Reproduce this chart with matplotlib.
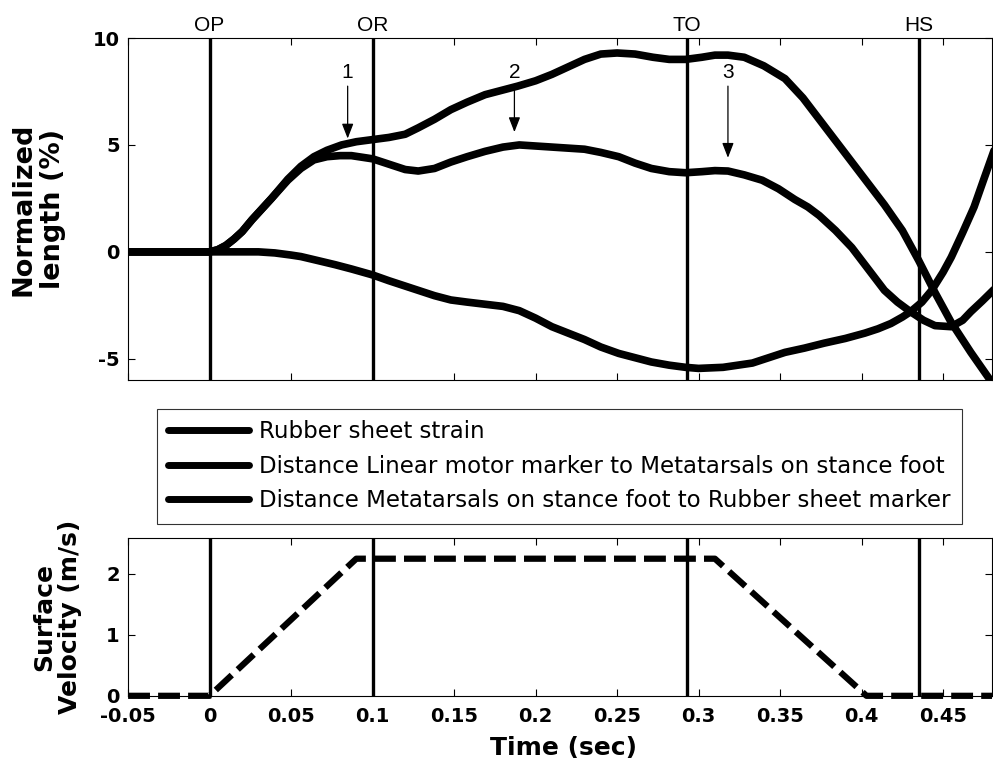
import matplotlib
matplotlib.use("Agg")
import matplotlib.pyplot as plt

plt.rcParams['font.family'] = ['Liberation Sans', 'DejaVu Sans']

# gait events (sec)
event_names = ["OP", "OR", "TO", "HS"]
event_times = [0.0, 0.1, 0.293, 0.435]

# Rubber sheet strain
t1 = [-0.05, 0, 0.005, 0.01, 0.015, 0.02, 0.026, 0.032, 0.038, 0.048, 0.056, 0.064, 0.072, 0.081,
      0.09, 0.1, 0.11, 0.12, 0.128, 0.138, 0.148, 0.158, 0.169, 0.179, 0.189, 0.2, 0.21, 0.22,
      0.23, 0.24, 0.25, 0.261, 0.272, 0.282, 0.292, 0.302, 0.31, 0.318, 0.328, 0.34, 0.353,
      0.364, 0.374, 0.384, 0.394, 0.404, 0.414, 0.425, 0.435, 0.445, 0.455, 0.467, 0.478, 0.482]
y1 = [0, 0, 0.1, 0.3, 0.6, 0.95, 1.5, 2.0, 2.5, 3.4, 4.0, 4.45, 4.75, 5.0,
      5.15, 5.25, 5.35, 5.5, 5.8, 6.2, 6.65, 7.0, 7.35, 7.55, 7.75, 8.0, 8.3, 8.65,
      9.0, 9.25, 9.3, 9.25, 9.1, 9.0, 9.0, 9.1, 9.2, 9.2, 9.1, 8.7, 8.1,
      7.2, 6.2, 5.2, 4.2, 3.2, 2.2, 1.0, -0.4, -1.9, -3.3, -4.7, -5.9, -6.3]

# Distance linear motor marker to metatarsals
t2 = [-0.05, 0, 0.005, 0.01, 0.015, 0.02, 0.026, 0.032, 0.038, 0.048, 0.056, 0.064, 0.072, 0.08,
      0.087, 0.1, 0.11, 0.12, 0.128, 0.138, 0.148, 0.158, 0.169, 0.18, 0.19, 0.2, 0.21, 0.22,
      0.23, 0.24, 0.251, 0.261, 0.271, 0.282, 0.292, 0.302, 0.31, 0.318, 0.328, 0.339, 0.349,
      0.359, 0.367, 0.374, 0.384, 0.394, 0.404, 0.414, 0.422, 0.43, 0.438, 0.445, 0.455,
      0.462, 0.467, 0.474, 0.482]
y2 = [0, 0, 0.1, 0.3, 0.6, 0.95, 1.5, 2.0, 2.5, 3.35, 3.9, 4.3, 4.45, 4.5,
      4.5, 4.35, 4.1, 3.85, 3.78, 3.9, 4.2, 4.45, 4.7, 4.9, 5.0, 4.95, 4.9, 4.85,
      4.8, 4.65, 4.45, 4.15, 3.9, 3.75, 3.7, 3.75, 3.8, 3.78, 3.6, 3.35, 2.95,
      2.45, 2.1, 1.7, 1.0, 0.2, -0.8, -1.8, -2.35, -2.8, -3.2, -3.45, -3.5,
      -3.2, -2.8, -2.3, -1.7]

# Distance metatarsals to rubber sheet marker
t3 = [-0.05, 0.03, 0.04, 0.05, 0.056, 0.066, 0.077, 0.087, 0.1, 0.11, 0.118, 0.128, 0.138,
      0.148, 0.158, 0.169, 0.18, 0.19, 0.2, 0.21, 0.22, 0.23, 0.24, 0.251, 0.261, 0.271,
      0.282, 0.292, 0.3, 0.315, 0.333, 0.343, 0.353, 0.365, 0.377, 0.39, 0.402, 0.41, 0.418,
      0.425, 0.43, 0.437, 0.443, 0.45, 0.455, 0.462, 0.469, 0.475, 0.482]
y3 = [0, 0, -0.05, -0.15, -0.22, -0.4, -0.6, -0.8, -1.08, -1.35, -1.55, -1.8, -2.05,
      -2.25, -2.35, -2.45, -2.55, -2.75, -3.1, -3.5, -3.8, -4.1, -4.45, -4.75, -4.95, -5.15,
      -5.3, -5.4, -5.45, -5.4, -5.2, -4.95, -4.7, -4.5, -4.27, -4.05, -3.8, -3.6, -3.35,
      -3.05, -2.8, -2.35, -1.8, -0.95, -0.25, 0.9, 2.1, 3.4, 4.9]

labels = ["Rubber sheet strain",
          "Distance Linear motor marker to Metatarsals on stance foot",
          "Distance Metatarsals on stance foot to Rubber sheet marker"]

# surface velocity
tv = [-0.05, 0, 0.09, 0.31, 0.403, 0.48]
vv = [0, 0, 2.25, 2.25, 0, 0]

# arrows
arrow_names = ["1", "2", "3"]
arrow_x = [0.0847, 0.187, 0.318]
arrow_tip = [5.3, 5.6, 4.4]

xticks = [-0.05, 0, 0.05, 0.1, 0.15, 0.2, 0.25, 0.3, 0.35, 0.4, 0.45]
xticklabels = ["-0.05", "0", "0.05", "0.1", "0.15", "0.2", "0.25", "0.3", "0.35", "0.4", "0.45"]
yticks1 = [-5, 0, 5, 10]
yticks2 = [0, 1, 2]

tickfont = dict(family='DejaVu Sans', weight='bold', size=14)
labfont = dict(family='DejaVu Sans', weight='bold', size=18)

fig = plt.figure(figsize=(9.93, 7.68), dpi=100)
ax1 = fig.add_axes([0.129, 0.505, 0.87, 0.4455])
ax2 = fig.add_axes([0.129, 0.094, 0.87, 0.2055])

h = []
for t, y, lab in zip([t1, t2, t3], [y1, y2, y3], labels):
    ln, = ax1.plot(t, y, color='black', lw=5.5, solid_capstyle='round',
                   solid_joinstyle='round', label=lab)
    h.append(ln)

for ax in (ax1, ax2):
    for et in event_times:
        ax.axvline(et, color='black', lw=2.4)
    ax.set_xlim(-0.05, 0.48)
    ax.tick_params(direction='in', top=True, right=True, length=5, width=0.8, pad=6)
    ax.set_xticks(xticks)
    for s in ax.spines.values():
        s.set_linewidth(0.8)

for name, et in zip(event_names, event_times):
    ax1.text(et, 1.038, name, transform=ax1.get_xaxis_transform(), ha='center', va='center',
             fontsize=15)

for name, x, tip in zip(arrow_names, arrow_x, arrow_tip):
    ax1.annotate("", xy=(x, tip), xytext=(x, 7.75),
                 arrowprops=dict(arrowstyle='-|>,head_length=0.9,head_width=0.35',
                                 color='black', lw=0.9, shrinkA=0, shrinkB=0))
    ax1.text(x, 8.4, name, ha='center', va='center', fontsize=15)

ax1.set_ylim(-6, 10)
ax1.set_yticks(yticks1)
ax1.set_yticklabels([str(v) for v in yticks1], fontdict=tickfont)
ax1.set_xticklabels([])

ax2.plot(tv, vv, color='black', lw=4.5, linestyle=(0, (3.5, 1.3)), clip_on=False)
ax2.set_ylim(0, 2.59)
ax2.set_yticks(yticks2)
ax2.set_yticklabels([str(v) for v in yticks2], fontdict=tickfont)
ax2.set_xticklabels(xticklabels, fontdict=tickfont)
ax2.tick_params(axis='x', pad=8)

fig.text(38 / 993, 1 - 209 / 768, "Normalized\nlength (%)", rotation=90, ha='center',
         va='center', linespacing=1.15, family='DejaVu Sans', weight='bold', size=19.5)
fig.text(57 / 993, 1 - 617 / 768, "Surface\nVelocity (m/s)", rotation=90, ha='center',
         va='center', linespacing=1.1, **labfont)
fig.text(563 / 993, 1 - 748 / 768, "Time (sec)", ha='center', va='center', **labfont)

leg = fig.legend(handles=h, loc='upper left', bbox_to_anchor=(157 / 993, 1 - 409 / 768),
                 prop=dict(family='DejaVu Sans', size=16.5), frameon=True, fancybox=False,
                 edgecolor='black', handlelength=3.5, handletextpad=0.45, borderaxespad=0,
                 borderpad=0.5, labelspacing=0.5)
leg.get_frame().set_linewidth(0.8)
for l in leg.get_lines():
    l.set_linewidth(5)

fig.savefig("out.png", dpi=100)
